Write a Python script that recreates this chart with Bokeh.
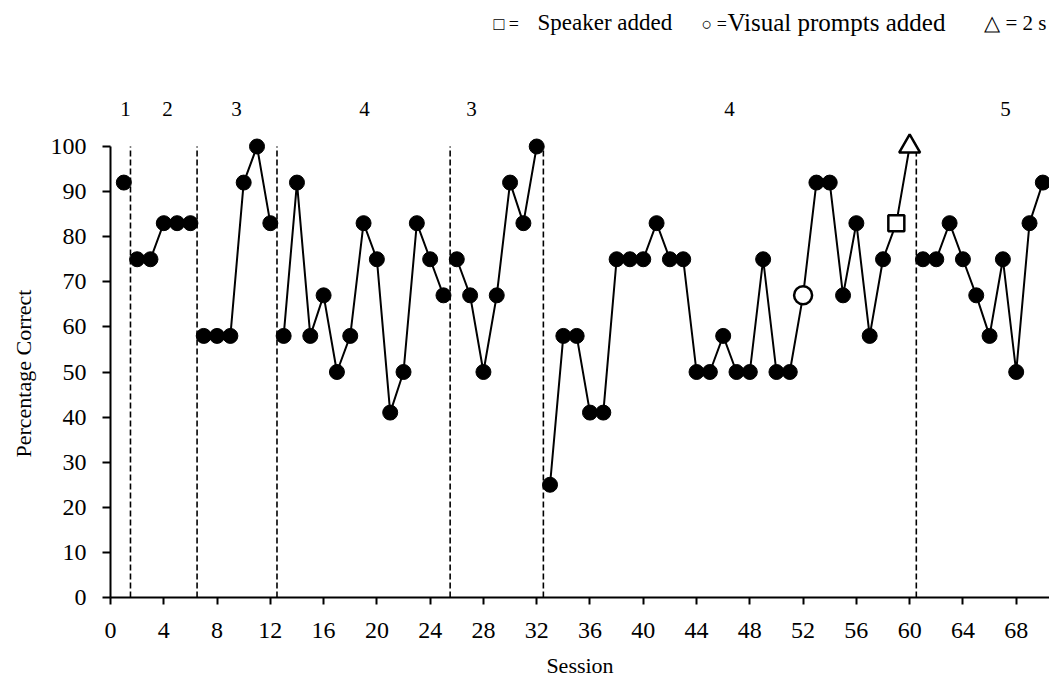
from bokeh.plotting import figure
from bokeh.models import FixedTicker, Range1d, Title
from bokeh.core.properties import value
from bokeh.embed import file_html
from bokeh.resources import INLINE

# ---- data ----
sessions = list(range(1, 71))
percent_correct = [92, 75, 75, 83, 83, 83, 58, 58, 58, 92, 100, 83,
                   58, 92, 58, 67, 50, 58, 83, 75, 41, 50, 83, 75, 67,
                   75, 67, 50, 67, 92, 83, 100,
                   25, 58, 58, 41, 41, 75, 75, 75, 83, 75, 75, 50, 50, 58, 50, 50,
                   75, 50, 50, 67, 92, 92, 67, 83, 58, 75, 83, 100,
                   75, 75, 83, 75, 67, 58, 75, 50, 83, 92]
phase_changes = [1.5, 6.5, 12.5, 25.5, 32.5, 60.5]
phase_names = ["1", "2", "3", "4", "3", "4", "5"]
visual_prompt_sessions = [52]
speaker_sessions = [59]
two_s_sessions = [60]
x_ticks = list(range(0, 69, 4))
y_ticks = list(range(0, 101, 10))
legend_symbols = ["\u25a1 =", "\u25cb =", "\u25b3 = 2 s"]
legend_words = ["Speaker added", "Visual  prompts  added"]
x_title = "Session"
y_title = "Percentage Correct"

# ---- layout (pixel positions converted to data units) ----
W, H = 1049, 681
LEFT, BOTTOM_PX = 110, 597
X_END = 70.5
Y_PER_PX = 1 / 4.51
Y_END = BOTTOM_PX * Y_PER_PX
K = (W - LEFT) / X_END


def dx(px):
    return (px - LEFT) / K


def dy(py):
    return (BOTTOM_PX - py) * Y_PER_PX


FONT = "Liberation Serif"

p = figure(width=W, height=H, output_backend="svg", toolbar_location=None,
           x_range=Range1d(0, X_END), y_range=Range1d(0, Y_END),
           min_border_left=LEFT, min_border_right=0, min_border_top=0,
           min_border_bottom=H - BOTTOM_PX)
p.outline_line_color = None
p.xgrid.grid_line_color = None
p.ygrid.grid_line_color = None
p.background_fill_color = "white"

# phase change lines
p.segment(x0=phase_changes, y0=[0] * len(phase_changes), x1=phase_changes,
          y1=[100] * len(phase_changes), line_color="black", line_width=1.6, line_dash="6 3")

# connecting lines, broken at phase changes
bounds = [0.0] + phase_changes + [1000.0]
xs, ys = [], []
for a, b in zip(bounds[:-1], bounds[1:]):
    seg_x = [s for s in sessions if a < s < b]
    seg_y = [percent_correct[sessions.index(s)] for s in seg_x]
    if len(seg_x) > 1:
        xs.append(seg_x)
        ys.append(seg_y)
p.multi_line(xs, ys, line_color="black", line_width=2)

special = set(visual_prompt_sessions + speaker_sessions + two_s_sessions)
fx = [s for s in sessions if s not in special]
fy = [percent_correct[sessions.index(s)] for s in fx]
p.scatter(fx, fy, marker="circle", size=15, fill_color="black", line_color="black")


def pts(ss):
    return ss, [percent_correct[sessions.index(s)] for s in ss]


vx, vy = pts(visual_prompt_sessions)
p.scatter(vx, vy, marker="circle", size=18, fill_color="white", line_color="black", line_width=2.5)
sx, sy = pts(speaker_sessions)
p.scatter(sx, sy, marker="square", size=16, fill_color="white", line_color="black", line_width=2.5)
tx, ty = pts(two_s_sessions)
p.scatter(tx, ty, marker="triangle", size=21, fill_color="white", line_color="black", line_width=2.5)

# phase labels
phase_label_px = [125, 167, 236, 364, 471, 729, 1005]
p.text(x=[dx(v) for v in phase_label_px], y=[dy(108)] * len(phase_label_px), text=phase_names,
       text_font=value(FONT), text_font_size="21px", text_align="center",
       text_baseline="middle", text_color="black")

# legend text
p.text(x=[dx(493), dx(701)], y=[dy(23)] * 2, text=legend_symbols[:2], text_font=value(FONT),
       text_font_size="18px", text_align="left", text_baseline="middle", text_color="black")
p.text(x=[dx(537)], y=[dy(22)], text=[legend_words[0]], text_font=value(FONT),
       text_font_size="23px", text_align="left", text_baseline="middle", text_color="black")
p.text(x=[dx(727)], y=[dy(22)], text=[legend_words[1]], text_font=value(FONT),
       text_font_size="25px", text_align="left", text_baseline="middle", text_color="black")
p.text(x=[dx(1046)], y=[dy(22)], text=[legend_symbols[2]], text_font=value(FONT),
       text_font_size="21px", text_align="right", text_baseline="middle", text_color="black")

for ax in (p.xaxis[0], p.yaxis[0]):
    ax.axis_line_width = 2
    ax.axis_line_color = "black"
    ax.major_tick_line_width = 2
    ax.major_tick_line_color = "black"
    ax.major_tick_in = 0
    ax.minor_tick_line_color = None
    ax.major_label_text_font = FONT
    ax.major_label_text_font_size = "24px"
    ax.major_label_text_color = "black"
    ax.axis_label_text_font = FONT
    ax.axis_label_text_font_size = "22px"
    ax.axis_label_text_font_style = "normal"
    ax.axis_label_text_color = "black"

p.xaxis.ticker = FixedTicker(ticks=x_ticks)
p.yaxis.ticker = FixedTicker(ticks=y_ticks)
p.yaxis.bounds = (0, 100)
p.xaxis.major_tick_out = 7
p.yaxis.major_tick_out = 8
p.xaxis.major_label_standoff = 18
p.yaxis.major_label_standoff = 16
p.xaxis.axis_label = x_title
p.xaxis.axis_label_standoff = 12

# y-axis title, centred on the 0-100 span of the axis (not on the whole frame)
p.add_layout(Title(text=y_title, align="left", offset=140, vertical_align="top",
                   text_font=FONT, text_font_size="22px", text_font_style="normal",
                   text_color="black", standoff=19), "left")

open("out.html", "w").write(file_html(p, INLINE))
